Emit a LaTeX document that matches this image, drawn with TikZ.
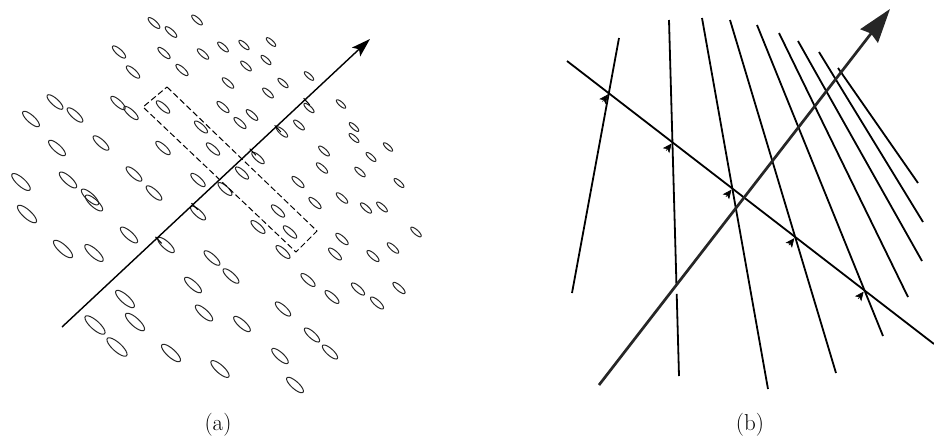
\documentclass[tikz,border=0pt]{standalone}
\usetikzlibrary{arrows.meta,calc}
\begin{document}
\begin{tikzpicture}[x=1pt,y=-1pt,
  ell/.style={draw=black!85,line width=1pt},
  axis/.style={line width=1.4pt,-{Stealth[length=19pt,width=12pt,inset=4pt]}},
  box/.style={line width=1pt,dash pattern=on 6pt off 3pt},
  fam/.style={line width=1.8pt},
  big/.style={line width=2.7pt,black!85,-{Stealth[length=34pt,width=22pt,inset=3pt]}},
  nrm/.style={line width=0.6pt,-{Stealth[length=9pt,width=8pt,inset=2pt]}},
  every node/.style={font=\fontsize{23}{27}\selectfont,inner sep=0pt}]
\useasboundingbox (0,0) rectangle (934,445);

% (a) samples, projection axis and window
\coordinate (a0) at (62,327);
\coordinate (a1) at (370,39);
\foreach \x/\y in {154/23,171/32,197/20,119/52,164/53,203/54,223/47,133/72,182/70,228/83,
  55/102,75/115,31/119,118/103,131/113,163/107,223/107,201/127,57/148,101/143,163/148,213/149,
  21/182,68/180,134/174,198/180,154/193,90/197,225/189,244/45,271/42,246/66,266/60,283/83,
  309/76,268/93,252/115,240/123,309/108,341/104,299/125,282/132,354/127,354/138,388/147,
  371/157,324/151,258/158,322/168,360/172,242/173,399/183,298/182,315/203,342/198,27/214,
  94/203,129/235,63/249,94/253,166/245,198/213,212/258,231/276,193/285,125/299,95/325,
  135/322,204/313,117/347,171/353,220/369,278/211,366/208,382/207,416/232,258/227,290/232,
  283/252,342/239,335/254,373/256,393/248,308/280,332/297,358/289,377/303,399/288,283/309,
  242/324,312/335,330/352,280/356,295/385}{
  \pgfmathsetmacro\ra{9.5+0.015*(\y-\x)}
  \pgfmathsetmacro\rb{0.34*\ra}
  \draw[ell] plot[smooth cycle,variable=\s,samples=24,domain=0:345]
    ({\x+\ra*0.743*cos(\s)-\rb*0.669*sin(\s)},{\y+\ra*0.669*cos(\s)+\rb*0.743*sin(\s)});
}
\draw[axis] (a0) -- (a1);
\foreach \t in {0.308,0.425,0.614,0.695,0.789}
  \draw[line width=1pt] ($(a0)!\t!(a1)+(-1.4,-1.5)$) -- ++(6.2,6.6);
\coordinate (r1) at (167,87);
\coordinate (r2) at (317,231);
\coordinate (r3) at (296,252);
\coordinate (r4) at (143,107);
\draw[box] (r1) -- (r2) -- (r3) -- (r4) -- cycle;
\node (la) at (218,425) {(a)};

% (b) lines, crossing line and direction
\coordinate (c0) at (567,61);
\coordinate (c1) at (934,344);
\coordinate (b0) at (599,385);
\coordinate (b1) at (890,9);
\foreach \i/\tx/\ty/\ex/\ey in {1/619/38/572/293,2/669/20/679/376,3/702/18/768/389,
  4/730/20/836/373,5/757/25/883/336,6/779/33/908/297,7/798/41/922/261,
  8/819/52/923/222,9/838/68/918/183}{
  \coordinate (t\i) at (\tx,\ty);
  \coordinate (e\i) at (\ex,\ey);
}
\coordinate (m2) at (intersection cs: first line={(t2)--(e2)}, second line={(b0)--(b1)});
\draw[fam] (t2) -- (m2);
\draw[fam] ($(m2)!9pt!(e2)$) -- (e2);
\foreach \u/\v in {t1/e1,t3/e3,t4/e4,t5/e5,t6/e6,t7/e7,t8/e8,t9/e9}
  \draw[fam] (\u) -- (\v);
\draw[fam] (c0) -- (c1);
\foreach \i in {1,...,5}{
  \coordinate (p\i) at (intersection cs: first line={(t\i)--(e\i)}, second line={(c0)--(c1)});
  \draw[nrm] ($(p\i)+(-6.4,8.3)$) -- ($(p\i)+(-0.9,1.2)$);
}
\draw[big] (b0) -- (b1);
\node (lb) at (750,425) {(b)};
\end{tikzpicture}
\end{document}
